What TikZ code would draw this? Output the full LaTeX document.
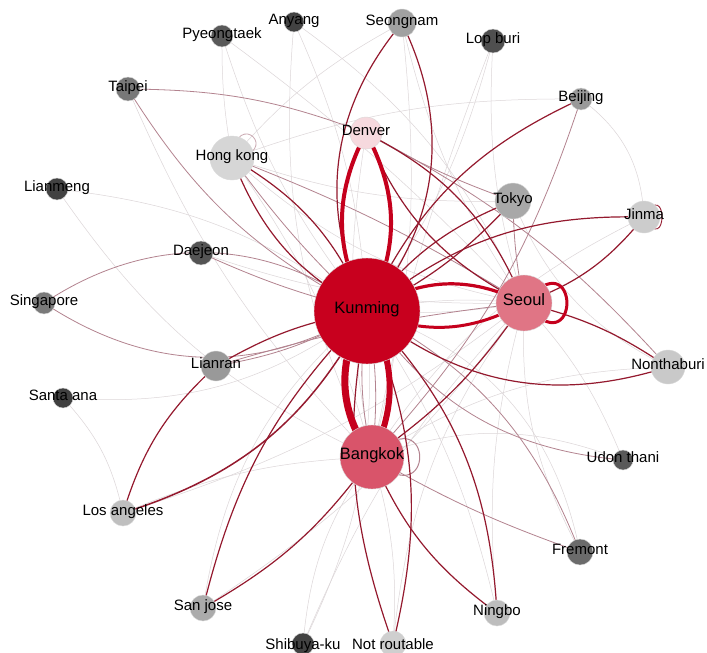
\documentclass[tikz,border=0pt]{standalone}
\usepackage{fontspec}
\setmainfont{Liberation Sans}
\definecolor{drk}{HTML}{94192E}
\definecolor{mauve}{HTML}{B3838F}
\definecolor{lgray}{HTML}{DCD6D8}
\definecolor{hvy}{HTML}{C5001D}
\definecolor{cK}{HTML}{C8001E}
\definecolor{cS}{HTML}{E07585}
\definecolor{cB}{HTML}{D9546A}
\definecolor{cDe}{HTML}{F6D9DE}
\tikzset{
  lg/.style={draw=lgray, line width=0.5pt},
  mv/.style={draw=mauve, line width=0.8pt},
  dr/.style={draw=drk, line width=1.2pt},
  hv/.style={draw=hvy},
  nd/.style={circle, inner sep=0pt, draw=black!15, line width=0.4pt},
  lbl/.style={font=\fontsize{15}{15}\selectfont, text=black, inner sep=0pt, anchor=mid},
  blbl/.style={font=\fontsize{16.5}{16.5}\selectfont, text=black, inner sep=0pt, anchor=mid},
}
\begin{document}
\begin{tikzpicture}[x=1pt,y=-1pt]
\useasboundingbox (0,0) rectangle (707,653);
\fill[white] (0,0) rectangle (707,653);
% centres
\coordinate (K) at (367,311);
\coordinate (S) at (524,303);
\coordinate (B) at (372,457);
\coordinate (De) at (366,133);
\coordinate (HK) at (232,158);
\coordinate (T) at (513,201);
\coordinate (J) at (644,217);
\coordinate (Be) at (581,99);
\coordinate (LB) at (493,41);
\coordinate (Sg) at (402,23);
\coordinate (A) at (294,22);
\coordinate (P) at (222,36);
\coordinate (Ta) at (128,89);
\coordinate (Lm) at (57,189);
\coordinate (Dj) at (201,253);
\coordinate (Si) at (44,303);
\coordinate (Lr) at (216,366);
\coordinate (SA) at (63,398);
\coordinate (LA) at (123,513);
\coordinate (SJ) at (203,608);
\coordinate (Sh) at (303,644);
\coordinate (NR) at (393,644);
\coordinate (N) at (497,613);
\coordinate (F) at (580,552);
\coordinate (U) at (623,460);
\coordinate (No) at (668,367);
% light edges
\draw[lg] (P) to[bend right=5] (HK);
\draw[lg] (P) to[bend right=10] (K);
\draw[lg] (P) to[bend left=5] (S);
\draw[lg] (A) to[bend right=15] (B);
\draw[lg] (A) to[bend left=10] (K);
\draw[lg] (A) to[bend left=15] (S);
\draw[lg] (Lm) to[bend left=15] (K);
\draw[lg] (Lm) to[bend right=15] (B);
\draw[lg] (SA) to[bend right=20] (K);
\draw[lg] (SA) to[bend left=15] (LA);
\draw[lg] (LA) to[bend left=10] (B);
\draw[lg] (LA) to[bend right=10] (S);
\draw[lg] (SJ) to[bend right=10] (S);
\draw[lg] (SJ) to[bend left=20] (K);
\draw[lg] (Sh) to[bend right=15] (K);
\draw[lg] (Sh) to[bend left=15] (B);
\draw[lg] (Sh) to[bend left=10] (S);
\draw[lg] (NR) to[bend left=15] (S);
\draw[lg] (NR) to[bend right=10] (B);
\draw[lg] (N) to[bend left=10] (S);
\draw[lg] (N) to[bend right=10] (K);
\draw[lg] (F) to[bend left=15] (S);
\draw[lg] (F) to[bend right=30] (K);
\draw[lg] (U) to[bend right=10] (S);
\draw[lg] (U) to[bend right=20] (B);
\draw[lg] (No) to[bend right=15] (B);
\draw[lg] (No) to[bend left=20] (T);
\draw[lg] (J) to[bend right=15] (B);
\draw[lg] (Be) to[bend left=25] (J);
\draw[lg] (LB) to[bend left=10] (K);
\draw[lg] (LB) to[bend right=10] (S);
\draw[lg] (LB) to[bend right=5] (B);
\draw[lg] (Be) to[bend right=10] (HK);
\draw[lg] (Sg) to[bend right=10] (S);
\draw[lg] (Sg) to[bend left=10] (B);
\draw[lg] (Sg) to[bend right=10] (HK);
\draw[lg] (HK) to[bend right=15] (S);
\draw[lg] (HK) to[bend right=10] (T);
\draw[lg] (HK) to[bend left=10] (B);
\draw[lg] (Dj) to[bend right=10] (S);
\draw[lg] (De) to[bend right=10] (B);
\draw[lg] (Ta) to[bend right=10] (B);
\draw[lg] (K) to[bend right=6] (S);
\draw[lg] (K) to[bend left=8] (S);
\draw[mauve!70, line width=0.8pt] (HK) to[out=85,in=5,min distance=52pt] (HK);
% mauve edges
\draw[mv] (Si) to[bend right=32] (K);
\draw[mv] (Si) to[bend left=35] (K);
\draw[mv] (Ta) to[bend left=10] (De);
\draw[mv] (Ta) to[bend right=15] (K);
\draw[mv] (F) to[bend right=20] (K);
\draw[mv] (F) to[bend left=5] (B);
\draw[mv] (U) to[bend left=25] (K);
\draw[mv] (De) to[bend left=10] (No);
\draw[mv] (HK) to[bend right=5] (K);
\draw[mv] (HK) to[bend left=5] (S);
\draw[mv] (Dj) to[bend right=5] (K);
\draw[mv] (Lr) to[bend right=10] (K);
\draw[mv] (Lr) to[bend left=5] (S);
\draw[mv] (T) to[bend right=5] (S);
\draw[mv] (De) to[bend right=5] (T);
\draw[mv] (Be) to[bend left=12] (B);
\draw[mv, line width=1pt] (B) to[out=45,in=-45,min distance=90pt] (B);
% dark red edges
\draw[dr] (HK) to[bend right=20] (K);
\draw[dr] (HK) to[bend left=18] (K);
\draw[dr] (Sg) to[bend right=33] (K);
\draw[dr] (Sg) to[bend left=33] (K);
\draw[dr] (De) to[bend left=20] (S);
\draw[dr] (De) to[bend right=20] (S);
\draw[dr] (Be) to[bend right=20] (K);
\draw[dr] (T) to[bend right=15] (K);
\draw[dr] (T) to[bend left=10] (K);
\draw[dr] (J) to[bend right=20] (K);
\draw[dr] (J) to[bend left=15] (S);
\draw[dr] (S) to[bend left=10] (No);
\draw[dr] (K) to[bend right=28] (No);
\draw[dr] (B) to[bend right=10] (S);
\draw[dr, line width=1.5pt] (LA) to[bend right=22] (K);
\draw[dr] (LA) to[bend left=15] (Lr);
\draw[dr] (Lr) to[bend left=10] (K);
\draw[dr] (SJ) to[bend left=15] (K);
\draw[dr] (SJ) to[bend right=12] (B);
\draw[dr] (NR) to[bend right=18] (K);
\draw[dr] (NR) to[bend left=15] (K);
\draw[dr] (N) to[bend left=15] (B);
\draw[dr] (N) to[bend right=20] (K);
\draw[mv] (K) to[bend right=10] (B);
\draw[mv] (K) to[bend left=8] (B);
\draw[dr, line width=0.9pt] (J) to[out=60,in=-60,min distance=48pt] (J);
% heavy edges
\draw[hv, line width=7pt] (K) to[bend right=35] (B);
\draw[hv, line width=6pt] (K) to[bend left=28] (B);
\draw[hv, line width=3pt] (K) to[bend right=26] (S);
\draw[hv, line width=3.2pt] (K) to[bend left=30] (S);
\draw[hv, line width=4pt] (K) to[bend right=28] (De);
\draw[hv, line width=4pt] (K) to[bend left=28] (De);
\draw[hv, line width=3pt] (S) to[out=50,in=-50,min distance=89pt] (S);
% nodes
\node[nd, fill=cK, minimum size=106pt] (Kc) at (K) {};
\node[nd, fill=cS, minimum size=56pt] (Sc) at (S) {};
\node[nd, fill=cB, minimum size=64pt] (Bc) at (B) {};
\node[nd, fill=cDe, minimum size=32pt] (Dec) at (De) {};
\node[nd, fill=black!16, minimum size=44pt] (HKc) at (HK) {};
\node[nd, fill=black!34, minimum size=36pt] (Tc) at (T) {};
\node[nd, fill=black!20, minimum size=32pt] (Jc) at (J) {};
\node[nd, fill=black!40, minimum size=22pt] (Bec) at (Be) {};
\node[nd, fill=black!69, minimum size=24pt] (LBc) at (LB) {};
\node[nd, fill=black!37, minimum size=28pt] (Sgc) at (Sg) {};
\node[nd, fill=black!74, minimum size=20pt] (Ac) at (A) {};
\node[nd, fill=black!65, minimum size=22pt] (Pc) at (P) {};
\node[nd, fill=black!53, minimum size=24pt] (Tac) at (Ta) {};
\node[nd, fill=black!74, minimum size=22pt] (Lmc) at (Lm) {};
\node[nd, fill=black!67, minimum size=24pt] (Djc) at (Dj) {};
\node[nd, fill=black!52, minimum size=22pt] (Sic) at (Si) {};
\node[nd, fill=black!40, minimum size=30pt] (Lrc) at (Lr) {};
\node[nd, fill=black!75, minimum size=20pt] (SAc) at (SA) {};
\node[nd, fill=black!25, minimum size=26pt] (LAc) at (LA) {};
\node[nd, fill=black!33, minimum size=26pt] (SJc) at (SJ) {};
\node[nd, fill=black!74, minimum size=22pt] (Shc) at (Sh) {};
\node[nd, fill=black!19, minimum size=26pt] (NRc) at (NR) {};
\node[nd, fill=black!26, minimum size=26pt] (Nc) at (N) {};
\node[nd, fill=black!58, minimum size=26pt] (Fc) at (F) {};
\node[nd, fill=black!65, minimum size=20pt] (Uc) at (U) {};
\node[nd, fill=black!21, minimum size=34pt] (Noc) at (No) {};
% labels
\node[blbl] (Kl) at (K) {Kunming};
\node[blbl] (Sl) at (S) {Seoul};
\node[blbl] (Bl) at (B) {Bangkok};
\node[lbl] (Del) at (De) {Denver};
\node[lbl] (HKl) at (HK) {Hong kong};
\node[lbl] (Tl) at (T) {Tokyo};
\node[lbl] (Jl) at (J) {Jinma};
\node[lbl] (Bel) at (Be) {Beijing};
\node[lbl] (LBl) at (LB) {Lop buri};
\node[lbl] (Sgl) at (Sg) {Seongnam};
\node[lbl] (Al) at (A) {Anyang};
\node[lbl] (Pl) at (P) {Pyeongtaek};
\node[lbl] (Tal) at (Ta) {Taipei};
\node[lbl] (Lml) at (Lm) {Lianmeng};
\node[lbl] (Djl) at (Dj) {Daejeon};
\node[lbl] (Sil) at (Si) {Singapore};
\node[lbl] (Lrl) at (Lr) {Lianran};
\node[lbl] (SAl) at (SA) {Santa ana};
\node[lbl] (LAl) at (LA) {Los angeles};
\node[lbl] (SJl) at (SJ) {San jose};
\node[lbl] (Shl) at ([yshift=-3pt]Sh) {Shibuya-ku};
\node[lbl] (NRl) at ([yshift=-3pt]NR) {Not routable};
\node[lbl] (Nl) at (N) {Ningbo};
\node[lbl] (Fl) at (F) {Fremont};
\node[lbl] (Ul) at (U) {Udon thani};
\node[lbl] (Nol) at (No) {Nonthaburi};
\end{tikzpicture}
\end{document}
